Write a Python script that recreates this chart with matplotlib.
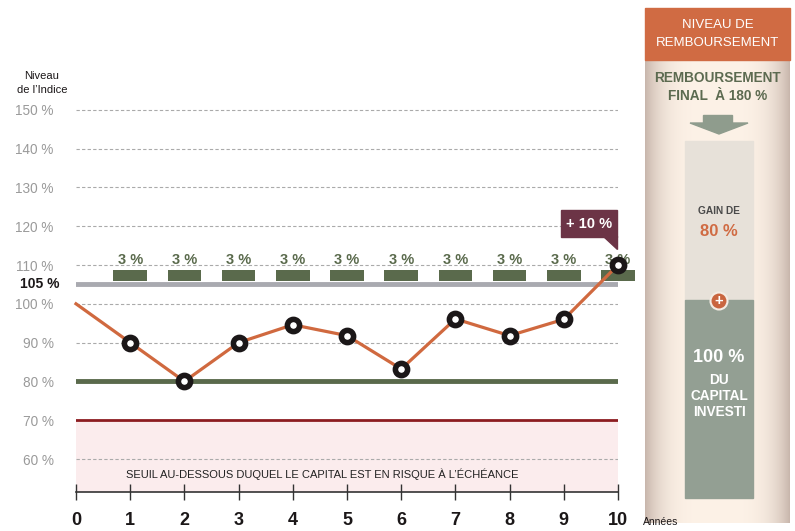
import numpy as np
import matplotlib.pyplot as plt
from matplotlib.patches import Rectangle, Polygon, Circle

plt.rcParams["font.family"] = ["Liberation Sans", "DejaVu Sans"]

# data
years = [0, 1, 2, 3, 4, 5, 6, 7, 8, 9, 10]
index_level = [100, 90, 80, 90, 94.6, 91.8, 83.2, 96.1, 91.8, 96, 110]
coupon_years = [1, 2, 3, 4, 5, 6, 7, 8, 9, 10]
coupon_labels = ["3 %"] * 10
grid_levels = [60, 90, 100, 110, 120, 130, 140, 150]
ytick_levels = [60, 70, 80, 90, 100, 110, 120, 130, 140, 150]
trigger_level = 105
coupon_bar = (105.8, 108.8)
barrier_level = 80
capital_level = 70
final_gain = "+ 10 %"

ORANGE = "#d0693f"
OLIVE = "#5a6a4c"
DARKRED = "#8c1c20"
PINK = "#fbeced"
PLUM = "#6c3446"

W, H = 795, 531
fig = plt.figure(figsize=(W / 100, H / 100), dpi=100)

# main chart axes
ax = fig.add_axes([76 / W, 39 / H, 542 / W, 401.6 / H])
ax.set_xlim(0, 10)
ax.set_ylim(51.5, 155)

for lvl in grid_levels:
    ax.axhline(lvl, color="#aaaaaa", lw=0.8, ls=(0, (3, 2)), zorder=1)

ax.axhspan(51.5, capital_level, color=PINK, lw=0, zorder=0)
ax.axhline(capital_level, color=DARKRED, lw=2, zorder=2)
ax.axhline(barrier_level, color=OLIVE, lw=3.5, zorder=2)
ax.axhline(trigger_level, color="#a9aab0", lw=3.5, zorder=2)

ax.bar(coupon_years, coupon_bar[1] - coupon_bar[0], bottom=coupon_bar[0],
       width=0.62, color=OLIVE, zorder=3, clip_on=False)
for x, lab in zip(coupon_years, coupon_labels):
    ax.text(x, coupon_bar[1] + 0.6, lab, ha="center", va="bottom",
            fontsize=10.5, fontweight="bold", color=OLIVE, zorder=3)

ax.plot(years, index_level, color=ORANGE, lw=2.3, zorder=4, clip_on=False)
ax.plot(years[1:], index_level[1:], ls="none", marker="o", ms=8.8,
        mfc="white", mec="#1b1718", mew=4, zorder=5, clip_on=False)

ax.text(4.54, 56, "SEUIL AU-DESSOUS DUQUEL LE CAPITAL EST EN RISQUE À L’ÉCHÉANCE",
        ha="center", va="center", fontsize=8, color="#222222")

ax.set_yticks(ytick_levels)
ax.set_yticklabels([f"{v} %" for v in ytick_levels], color="#9a9a9a", fontsize=9.8)
ax.tick_params(axis="y", length=0, pad=16)
ax.text(-0.3, trigger_level, "105 %", ha="right", va="center",
        fontsize=10, fontweight="bold", color="#1b1718")

ax.set_xticks(years)
ax.set_xticklabels([str(y) for y in years], fontsize=13, fontweight="bold", color="#1b1718")
ax.tick_params(axis="x", direction="inout", length=11, width=1, color="#333333", pad=9)
for s in ["top", "right", "left"]:
    ax.spines[s].set_visible(False)
ax.spines["bottom"].set_color("#333333")
ax.spines["bottom"].set_linewidth(1.2)

# overlay in pixel coordinates for annotations and the side panel
ov = fig.add_axes([0, 0, 1, 1])
ov.axis("off")
ov.patch.set_alpha(0)

ov.text(42, 83, "Niveau\nde l’Indice", ha="center", va="center",
        fontsize=8, color="#1b1718", linespacing=1.4)
ov.text(643, 522, "Années", ha="left", va="center", fontsize=7.5, color="#1b1718")

# +10 % callout
ov.add_patch(Rectangle((561, 210), 56, 27, color=PLUM, zorder=6))
ov.add_patch(Polygon([(603, 236), (617, 236), (617, 249)], color=PLUM, zorder=6))
ov.text(589, 223.5, final_gain, ha="center", va="center", fontsize=10.5,
        fontweight="bold", color="white", zorder=7)

# side panel with soft shaded edges
grad = np.linspace(-1, 1, 300)
shade = np.abs(grad) ** 4
c_in = np.array([253, 242, 231]) / 255
c_out = np.array([200, 182, 172]) / 255
img = c_in[None, :] * (1 - shade[:, None]) + c_out[None, :] * shade[:, None]
ov.imshow(img[None, :, :], extent=(645, 790, 523, 8), aspect="auto", zorder=1)
ov.set_xlim(0, W)
ov.set_ylim(H, 0)

ov.add_patch(Rectangle((645, 8), 145, 52, color="#d06b43", zorder=2))
ov.text(717.5, 34, "NIVEAU DE\nREMBOURSEMENT", ha="center", va="center",
        fontsize=9.5, color="white", linespacing=1.6, zorder=3)
ov.text(717.5, 87, "REMBOURSEMENT\nFINAL  À 180 %", ha="center", va="center",
        fontsize=9.8, fontweight="bold", color="#5c6a50", linespacing=1.45, zorder=3)

ov.add_patch(Rectangle((703, 115), 29, 9, color="#8f9c8d", zorder=3))
ov.add_patch(Polygon([(690, 123), (748, 123), (719, 134)], color="#8f9c8d", zorder=3))

ov.add_patch(Rectangle((685, 141), 68, 159, color="#e7e1d9", zorder=3))
ov.add_patch(Rectangle((685, 300), 68, 198, color="#939f93", zorder=3))
ov.text(719, 211, "GAIN DE", ha="center", va="center", fontsize=7.3,
        fontweight="bold", color="#4a4a4a", zorder=4)
ov.text(719, 231, "80 %", ha="center", va="center", fontsize=12,
        fontweight="bold", color="#d06b43", zorder=4)
ov.add_patch(Circle((719, 301), 8.5, facecolor="#c9653f", edgecolor="#f4ece4", lw=1.5, zorder=5))
ov.text(719, 300.5, "+", ha="center", va="center", fontsize=10.5,
        fontweight="bold", color="white", zorder=6)
ov.text(719, 357, "100 %", ha="center", va="center", fontsize=13,
        fontweight="bold", color="white", zorder=4)
ov.text(719, 396, "DU\nCAPITAL\nINVESTI", ha="center", va="center", fontsize=9.8,
        fontweight="bold", color="white", linespacing=1.15, zorder=4)

fig.savefig("out.png", dpi=100)
